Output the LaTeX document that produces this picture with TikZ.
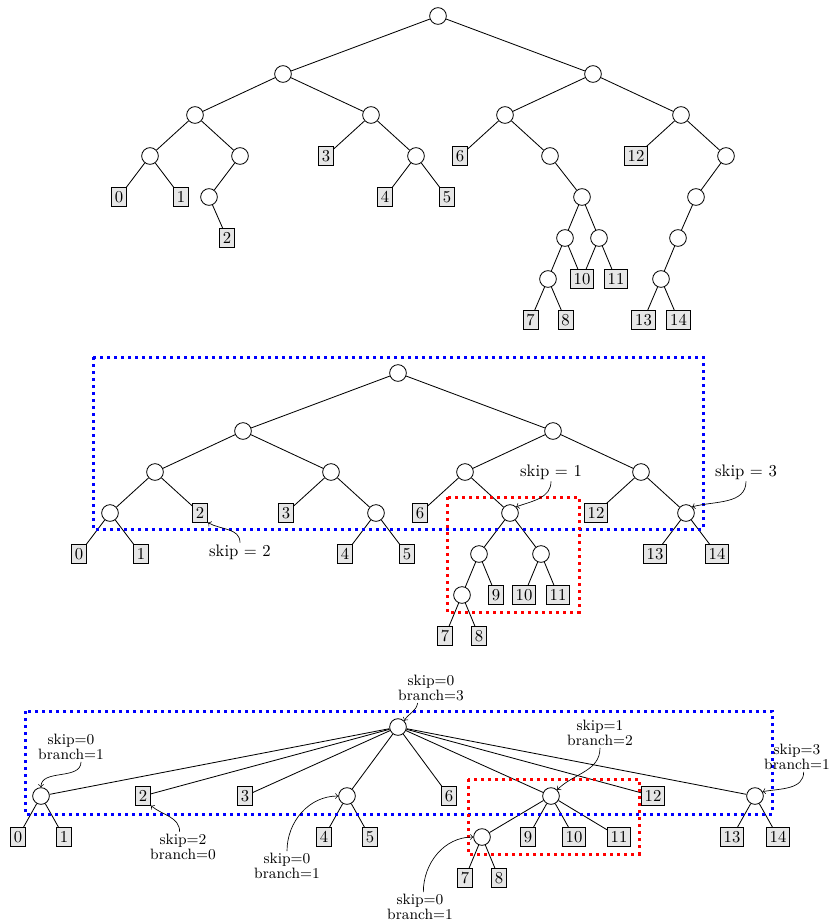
\documentclass[tikz,border=0pt]{standalone}
\usepackage{amsmath}
\usepackage{xcolor}
\usepackage{tikz}
\definecolor{leafgray}{RGB}{230,230,230}

\begin{document}
\begin{tikzpicture}[x=0.6pt, y=0.6pt, node distance=24.6pt,
    inner/.style={draw, circle, fill=white, minimum size=10pt, inner sep=0pt, line width=0.5pt},
    leaf/.style={draw, rectangle, fill=leafgray, inner sep=2pt, minimum height=11pt, line width=0.5pt},
    link/.style={line width=0.5pt},
    note/.style={inner sep=1pt, align=center},
    smallnote/.style={inner sep=1pt, align=center, font=\fontsize{9}{9.2}\selectfont},
    pointer/.style={->, line width=0.4pt},
    outerbox/.style={draw=blue, line width=1.8pt, dash pattern=on 1.8pt off 2.4pt},
    innerbox/.style={draw=red, line width=1.8pt, dash pattern=on 1.8pt off 2.4pt}]
    \useasboundingbox (0,0) rectangle (832,-922);

    \node[inner] (t) at (438,-16) {};
    \node[inner, below of=t, node distance=34.8pt, xshift=-93pt] (t0) {};
    \node[inner, below of=t, node distance=34.8pt, xshift=93pt] (t1) {};
    \node[inner, below of=t0, xshift=-52.8pt] (t00) {};
    \node[inner, below of=t0, xshift=52.8pt] (t01) {};
    \node[inner, below of=t00, xshift=-27pt] (t000) {};
    \node[inner, below of=t00, xshift=27pt] (t001) {};
    \node[leaf, below of=t000, xshift=-18.6pt] (tk0) {0};
    \node[leaf, below of=t000, xshift=18.6pt] (tk1) {1};
    \node[inner, below of=t001, xshift=-18.6pt] (t0010) {};
    \node[leaf, below of=t0010, xshift=10.8pt] (tk2) {2};
    \node[leaf, below of=t01, xshift=-27pt] (tk3) {3};
    \node[inner, below of=t01, xshift=27pt] (t011) {};
    \node[leaf, below of=t011, xshift=-18.6pt] (tk4) {4};
    \node[leaf, below of=t011, xshift=18.6pt] (tk5) {5};
    \node[inner, below of=t1, xshift=-52.8pt] (t10) {};
    \node[inner, below of=t1, xshift=52.8pt] (t11) {};
    \node[leaf, below of=t10, xshift=-27pt] (tk6) {6};
    \node[inner, below of=t10, xshift=27pt] (t101) {};
    \node[inner, below of=t101, xshift=19.2pt] (t1010) {};
    \node[inner, below of=t1010, xshift=-10.2pt] (t10100) {};
    \node[inner, below of=t1010, xshift=10.2pt] (t10101) {};
    \node[inner, below of=t10100, xshift=-10.2pt] (t101000) {};
    \node[leaf, below of=t10100, xshift=10.2pt] (tk10) {10};
    \node[leaf, below of=t10101, xshift=10.2pt] (tk11) {11};
    \node[leaf, below of=t101000, xshift=-10.5pt] (tk7) {7};
    \node[leaf, below of=t101000, xshift=10.5pt] (tk8) {8};
    \node[leaf, below of=t11, xshift=-27pt] (tk12) {12};
    \node[inner, below of=t11, xshift=27pt] (t111) {};
    \node[inner, below of=t111, xshift=-18pt] (t1110) {};
    \node[inner, below of=t1110, xshift=-10.8pt] (t11100) {};
    \node[inner, below of=t11100, xshift=-10.2pt] (t111000) {};
    \node[leaf, below of=t111000, xshift=-10.5pt] (tk13) {13};
    \node[leaf, below of=t111000, xshift=10.5pt] (tk14) {14};

    \foreach \a/\b in {t/t0, t/t1, t0/t00, t0/t01, t00/t000, t00/t001, t000/tk0, t000/tk1,
        t001/t0010, t0010/tk2, t01/tk3, t01/t011, t011/tk4, t011/tk5, t1/t10, t1/t11,
        t10/tk6, t10/t101, t101/t1010, t1010/t10100, t1010/t10101, t10100/t101000,
        t10100/tk10, t10101/tk10, t10101/tk11, t101000/tk7, t101000/tk8, t11/tk12,
        t11/t111, t111/t1110, t1110/t11100, t11100/t111000, t111000/tk13, t111000/tk14}
        \draw[link] (\a) -- (\b);

    \node[inner] (m) at (398,-373) {};
    \node[inner, below of=m, node distance=34.8pt, xshift=-93pt] (m0) {};
    \node[inner, below of=m, node distance=34.8pt, xshift=93pt] (m1) {};
    \node[inner, below of=m0, xshift=-52.8pt] (m00) {};
    \node[inner, below of=m0, xshift=52.8pt] (m01) {};
    \node[inner, below of=m00, xshift=-27pt] (m000) {};
    \node[leaf, below of=m00, xshift=27pt] (mk2) {2};
    \node[leaf, below of=m000, xshift=-18.6pt] (mk0) {0};
    \node[leaf, below of=m000, xshift=18.6pt] (mk1) {1};
    \node[leaf, below of=m01, xshift=-27pt] (mk3) {3};
    \node[inner, below of=m01, xshift=27pt] (m011) {};
    \node[leaf, below of=m011, xshift=-18.6pt] (mk4) {4};
    \node[leaf, below of=m011, xshift=18.6pt] (mk5) {5};
    \node[inner, below of=m1, xshift=-52.8pt] (m10) {};
    \node[inner, below of=m1, xshift=52.8pt] (m11) {};
    \node[leaf, below of=m10, xshift=-27pt] (mk6) {6};
    \node[inner, below of=m10, xshift=27pt] (m101) {};
    \node[inner, below of=m101, xshift=-18.6pt] (m1010) {};
    \node[inner, below of=m101, xshift=18.6pt] (m1011) {};
    \node[inner, below of=m1010, xshift=-10.2pt] (m10100) {};
    \node[leaf, below of=m1010, xshift=10.2pt] (mk9) {9};
    \node[leaf, below of=m10100, xshift=-10.2pt] (mk7) {7};
    \node[leaf, below of=m10100, xshift=10.2pt] (mk8) {8};
    \node[leaf, below of=m1011, xshift=-10.2pt] (mk10) {10};
    \node[leaf, below of=m1011, xshift=10.2pt] (mk11) {11};
    \node[leaf, below of=m11, xshift=-27pt] (mk12) {12};
    \node[inner, below of=m11, xshift=27pt] (m111) {};
    \node[leaf, below of=m111, xshift=-18.6pt] (mk13) {13};
    \node[leaf, below of=m111, xshift=18.6pt] (mk14) {14};

    \foreach \a/\b in {m/m0, m/m1, m0/m00, m0/m01, m00/m000, m00/mk2, m000/mk0, m000/mk1,
        m01/mk3, m01/m011, m011/mk4, m011/mk5, m1/m10, m1/m11, m10/mk6, m10/m101,
        m101/m1010, m101/m1011, m1010/m10100, m1010/mk9, m10100/mk7, m10100/mk8,
        m1011/mk10, m1011/mk11, m11/mk12, m11/m111, m111/mk13, m111/mk14}
        \draw[link] (\a) -- (\b);

    \draw[outerbox] (93,-357) rectangle (703,-529);
    \draw[innerbox] (447,-497) rectangle (579,-612);

    \node[note] (n2) at (240,-552) {skip $=$ 2};
    \node[note] (n1) at (551,-472) {skip $=$ 1};
    \node[note] (n3) at (746,-472) {skip $=$ 3};
    \draw[pointer] (n2.north) to[out=90, in=-30] (mk2.south east);
    \draw[pointer] (n1.south) to[out=-90, in=20] (m101.north east);
    \draw[pointer] (n3.south) to[out=-90, in=15] (m111.north east);

    \node[inner] (b) at (398,-727) {};
    \node[inner, below of=b, node distance=41.4pt, xshift=-214.2pt] (b0) {};
    \node[leaf, below of=b, node distance=41.4pt, xshift=-153pt] (bk2) {2};
    \node[leaf, below of=b, node distance=41.4pt, xshift=-91.8pt] (bk3) {3};
    \node[inner, below of=b, node distance=41.4pt, xshift=-30.6pt] (b4) {};
    \node[leaf, below of=b, node distance=41.4pt, xshift=30.6pt] (bk6) {6};
    \node[inner, below of=b, node distance=41.4pt, xshift=91.8pt] (b9) {};
    \node[leaf, below of=b, node distance=41.4pt, xshift=153pt] (bk12) {12};
    \node[inner, below of=b, node distance=41.4pt, xshift=214.2pt] (b13) {};
    \node[leaf, below of=b0, xshift=-13.8pt] (bk0) {0};
    \node[leaf, below of=b0, xshift=13.8pt] (bk1) {1};
    \node[leaf, below of=b4, xshift=-13.8pt] (bk4) {4};
    \node[leaf, below of=b4, xshift=13.8pt] (bk5) {5};
    \node[inner, below of=b9, xshift=-41.4pt] (b7) {};
    \node[leaf, below of=b9, xshift=-13.8pt] (bk9) {9};
    \node[leaf, below of=b9, xshift=13.8pt] (bk10) {10};
    \node[leaf, below of=b9, xshift=40.8pt] (bk11) {11};
    \node[leaf, below of=b13, xshift=-13.8pt] (bk13) {13};
    \node[leaf, below of=b13, xshift=13.8pt] (bk14) {14};
    \node[leaf, below of=b7, xshift=-10.2pt] (bk7) {7};
    \node[leaf, below of=b7, xshift=10.2pt] (bk8) {8};

    \foreach \a/\b in {b/b0, b/bk2, b/bk3, b/b4, b/bk6, b/b9, b/bk12, b/b13, b0/bk0, b0/bk1,
        b4/bk4, b4/bk5, b9/b7, b9/bk9, b9/bk10, b9/bk11, b7/bk7, b7/bk8, b13/bk13, b13/bk14}
        \draw[link] (\a) -- (\b);

    \draw[outerbox] (25,-711) rectangle (772,-814);
    \draw[innerbox] (468,-779) rectangle (639,-854);

    \node[smallnote] (nb) at (431,-688) {skip=0\\branch=3};
    \node[smallnote] (nb0) at (71,-747) {skip=0\\branch=1};
    \node[smallnote] (nbk2) at (183,-847) {skip=2\\branch=0};
    \node[smallnote] (nb4) at (287,-866) {skip=0\\branch=1};
    \node[smallnote] (nb9) at (600,-733) {skip=1\\branch=2};
    \node[smallnote] (nb13) at (797,-757) {skip=3\\branch=1};
    \node[smallnote] (nb7) at (420,-907) {skip=0\\branch=1};
    \draw[pointer] ([xshift=-8pt]nb.south) to[out=-100, in=60] (b.north east);
    \draw[pointer] ([xshift=6pt]nb0.south) to[out=-90, in=90] (b0.north);
    \draw[pointer] ([xshift=-2pt]nbk2.north) to[out=90, in=-40] (bk2.south east);
    \draw[pointer] (nb4.north) to[out=90, in=180] (b4.west);
    \draw[pointer] (nb9.south) to[out=-90, in=45] (b9.north east);
    \draw[pointer] ([xshift=4pt]nb13.south) to[out=-90, in=10] (b13.30);
    \draw[pointer] ([xshift=2pt]nb7.north) to[out=90, in=180] (b7.west);
\end{tikzpicture}
\end{document}
